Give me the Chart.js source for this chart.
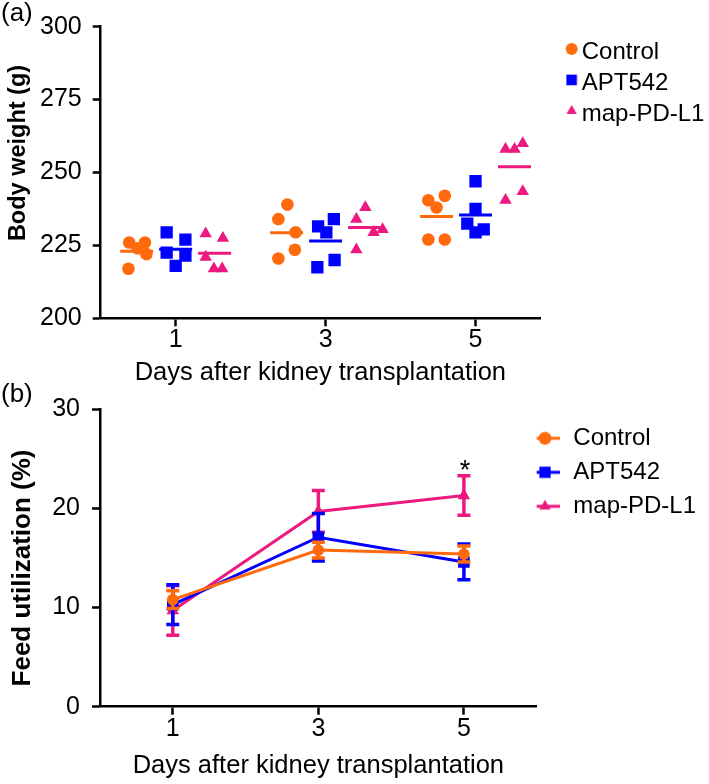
<!DOCTYPE html>
<html>
<head>
<meta charset="utf-8">
<script src="https://cdn.jsdelivr.net/npm/chart.js@4.4.1/dist/chart.umd.min.js"></script>
<style>
  body { margin: 0; background: #fff; }
  #wrap { position: relative; width: 709px; height: 784px; overflow: hidden; }
  .box { position: absolute; left: 0; }
  .panel { position: absolute; left: 1px; font: 26px "Liberation Sans", Arial, sans-serif; color: #000; }
  .ytitle { position: absolute; white-space: nowrap; line-height: 1; font-family: "Liberation Sans", Arial, sans-serif;
            font-weight: bold; color: #000; transform: translate(-50%, -50%) rotate(-90deg); }
</style>
</head>
<body>
<div id="wrap">
  <div class="box" style="top:0"><canvas id="weightChart" width="709" height="395"></canvas></div>
  <div class="box" style="top:380px"><canvas id="feedChart" width="709" height="404"></canvas></div>
  <div class="panel" style="top:-3px">(a)</div>
  <div class="panel" style="top:378px">(b)</div>
  <div class="ytitle" style="left:18px; top:153px; font-size:23.5px">Body weight (g)</div>
  <div class="ytitle" style="left:21px; top:568px; font-size:26px">Feed utilization (%)</div>
</div>
<script>
const days = [1, 3, 5];
const groups = ['Control', 'APT542', 'map-PD-L1'];

// body weight (g), 5 rats per group, one row per day
const controlWeight = [[226, 226, 224, 222, 217], [239, 234, 229.5, 223.5, 220.5], [242, 240.5, 238, 227, 227]];
const aptWeight = [[229.5, 227, 222.5, 221.5, 218], [234, 231.5, 229.5, 220, 217.5], [247, 237.5, 232.5, 230.5, 229.5]];
const mapWeight = [[229, 227.5, 221, 217, 217], [238, 234, 230.5, 229.5, 223.5], [258, 258, 260, 243.5, 240.5]];
const weightTicks = [200, 225, 250, 275, 300];

// feed utilization (%), mean and error bar
const controlFeed = [10.8, 15.8, 15.4];
const controlFeedErr = [0.9, 0.8, 0.8];
const aptFeed = [10.3, 17.1, 14.6];
const aptFeedErr = [2.0, 2.4, 1.8];
const mapFeed = [9.7, 19.7, 21.3];
const mapFeedErr = [2.5, 2.1, 2.0];
const mapFeedSig = ['', '', '*'];
const feedTicks = [0, 10, 20, 30];

// scatter layout: group offset and point spread inside a group (in days)
const groupShift = [-0.52, 0, 0.52];
const controlJitter = [[-0.10, 0.11, 0.01, 0.13, -0.11], [0.01, -0.11, 0.12, 0.11, -0.11], [0.11, -0.11, 0, -0.11, 0.11]];
const aptJitter = [[-0.12, 0.13, -0.12, 0.13, 0], [0.11, -0.10, 0.01, 0.12, -0.11], [0, 0, -0.11, 0.11, 0]];
const mapJitter = [[-0.12, 0.11, -0.12, -0.01, 0.10], [0.01, -0.11, 0.24, 0.12, -0.11], [-0.12, 0, 0.11, 0.11, -0.12]];

const colors = ['#ff6a0d', '#0000ff', '#ec1a7f'];
const styles = ['circle', 'rect', 'triangle'];
const FONT = '"Liberation Sans", Arial, sans-serif';

Chart.defaults.font.family = FONT;
Chart.defaults.color = '#000';

// small canvas used as legend symbol (marker, optionally with a line)
function legendIcon(g, w, mx, my, r, withLine) {
  const c = document.createElement('canvas');
  c.width = w; c.height = 20;
  const ctx = c.getContext('2d');
  ctx.fillStyle = colors[g];
  ctx.strokeStyle = colors[g];
  if (withLine) {
    ctx.lineWidth = 3;
    ctx.beginPath(); ctx.moveTo(0, my); ctx.lineTo(30, my); ctx.stroke();
  }
  Chart.helpers.drawPoint(ctx, {pointStyle: styles[g], radius: r, borderWidth: 0, rotation: 0}, mx, my);
  return c;
}

function axisStyle() {
  return {
    grid: {drawOnChartArea: false, drawTicks: true, tickLength: 8, tickWidth: 2.5, tickColor: '#000'},
    border: {color: '#000', width: 2.5}
  };
}

// ---------- (a) body weight ----------
const weightSets = [controlWeight, aptWeight, mapWeight];
const jitters = [controlJitter, aptJitter, mapJitter];
const topSizes = [6.3, 8.7, 7.2];
const weightDatasets = [];
const meanDatasets = [];

weightSets.forEach((set, g) => {
  const pts = [];
  const means = [];
  days.forEach((d, i) => {
    set[i].forEach((v, k) => pts.push({x: d + groupShift[g] + jitters[g][i][k], y: v}));
    const m = set[i].reduce((a, b) => a + b, 0) / set[i].length;
    const c = d + groupShift[g];
    means.push({x: c - 0.22, y: m}, {x: c + 0.22, y: m}, {x: c + 0.3, y: null});
  });
  weightDatasets.push({
    label: groups[g], data: pts, pointStyle: styles[g], pointRadius: topSizes[g],
    backgroundColor: colors[g], borderColor: colors[g], borderWidth: 0
  });
  meanDatasets.push({
    label: groups[g] + ' mean', data: means, showLine: true, spanGaps: false,
    borderColor: colors[g], borderWidth: 3, pointRadius: 0
  });
});

new Chart(document.getElementById('weightChart'), {
  type: 'scatter',
  data: {datasets: weightDatasets.concat(meanDatasets)},
  options: {
    responsive: false,
    animation: false,
    layout: {padding: {top: 26.7, left: 0, right: 0, bottom: 0}},
    plugins: {
      tooltip: {enabled: false},
      legend: {
        position: 'right', align: 'start', maxWidth: 169,
        title: {display: true, text: ' ', font: {size: 1}, padding: {top: 0, bottom: 5}},
        labels: {
          usePointStyle: true, pointStyleWidth: 22.7, padding: 7, font: {size: 24},
          generateLabels: () => groups.map((name, g) => ({
            text: name, datasetIndex: g, fontColor: '#000', hidden: false, lineWidth: 0,
            pointStyle: legendIcon(g, 40, 33.3, 7, g == 1 ? 7.5 : 6, false)
          }))
        }
      }
    },
    scales: {
      x: Object.assign(axisStyle(), {
        type: 'linear', min: 0, max: 5.86,
        afterBuildTicks: s => { s.ticks = days.map(v => ({value: v})); },
        afterFit: s => { s.height = 76.7; },
        ticks: {font: {size: 25}, padding: -1, color: '#000'},
        title: {display: true, text: 'Days after kidney transplantation', font: {size: 25.5}, color: '#000', padding: {top: 0, bottom: 7}}
      }),
      y: Object.assign(axisStyle(), {
        min: 200, max: 300,
        afterBuildTicks: s => { s.ticks = weightTicks.map(v => ({value: v})); },
        afterFit: s => { s.width = 100.7; },
        ticks: {font: {size: 25}, padding: 11, color: '#000'}
      })
    }
  }
});

// ---------- (b) feed utilization ----------
const errorBars = {
  id: 'errorBars',
  afterDatasetDraw(chart, args) {
    const ds = chart.data.datasets[args.index];
    if (!ds.errors) return;
    const {ctx, scales: {x, y}} = chart;
    ctx.save();
    ctx.strokeStyle = ds.borderColor;
    ctx.lineWidth = 3.5;
    ds.data.forEach((p, i) => {
      const px = x.getPixelForValue(p.x);
      const hi = y.getPixelForValue(p.y + ds.errors[i]);
      const lo = y.getPixelForValue(p.y - ds.errors[i]);
      ctx.beginPath();
      ctx.moveTo(px, hi); ctx.lineTo(px, lo);
      ctx.moveTo(px - 6.5, hi); ctx.lineTo(px + 6.5, hi);
      ctx.moveTo(px - 6.5, lo); ctx.lineTo(px + 6.5, lo);
      ctx.stroke();
      if (ds.sig && ds.sig[i]) {
        ctx.fillStyle = '#000';
        ctx.font = '27px ' + FONT;
        ctx.textAlign = 'center';
        ctx.textBaseline = 'alphabetic';
        ctx.fillText(ds.sig[i], px + 1, hi + 3);
      }
    });
    ctx.restore();
  }
};

const feedSets = [controlFeed, aptFeed, mapFeed];
const feedErrs = [controlFeedErr, aptFeedErr, mapFeedErr];
const lowSizes = [5.8, 8.2, 7.2];

new Chart(document.getElementById('feedChart'), {
  type: 'line',
  data: {
    datasets: feedSets.map((set, g) => ({
      label: groups[g],
      data: days.map((d, i) => ({x: d, y: set[i]})),
      errors: feedErrs[g],
      sig: g == 2 ? mapFeedSig : null,
      borderColor: colors[g], backgroundColor: colors[g], borderWidth: 3,
      pointStyle: styles[g], pointRadius: lowSizes[g], pointBorderWidth: 0,
      tension: 0
    }))
  },
  plugins: [errorBars],
  options: {
    responsive: false,
    animation: false,
    layout: {padding: {top: 29.3, left: 0, right: 3, bottom: 0}},
    plugins: {
      tooltip: {enabled: false},
      legend: {
        position: 'right', align: 'start',
        title: {display: true, text: ' ', font: {size: 1}, padding: {top: 0, bottom: 5.8}},
        labels: {
          usePointStyle: true, pointStyleWidth: 14.6, padding: 10, font: {size: 24},
          generateLabels: () => groups.map((name, g) => ({
            text: name, datasetIndex: g, fontColor: '#000', hidden: false, lineWidth: 0,
            pointStyle: legendIcon(g, 48, 15, 10, g == 1 ? 8 : 6.5, true)
          }))
        }
      }
    },
    scales: {
      x: Object.assign(axisStyle(), {
        type: 'linear', min: 0, max: 6,
        afterBuildTicks: s => { s.ticks = days.map(v => ({value: v})); },
        afterFit: s => { s.height = 77.3; },
        ticks: {font: {size: 25}, padding: -1, color: '#000'},
        title: {display: true, text: 'Days after kidney transplantation', font: {size: 25.5}, color: '#000', padding: {top: 0, bottom: 2.7}}
      }),
      y: Object.assign(axisStyle(), {
        min: 0, max: 30,
        afterBuildTicks: s => { s.ticks = feedTicks.map(v => ({value: v})); },
        afterFit: s => { s.width = 100; },
        ticks: {font: {size: 25}, padding: 12, color: '#000'}
      })
    }
  }
});
</script>
</body>
</html>
